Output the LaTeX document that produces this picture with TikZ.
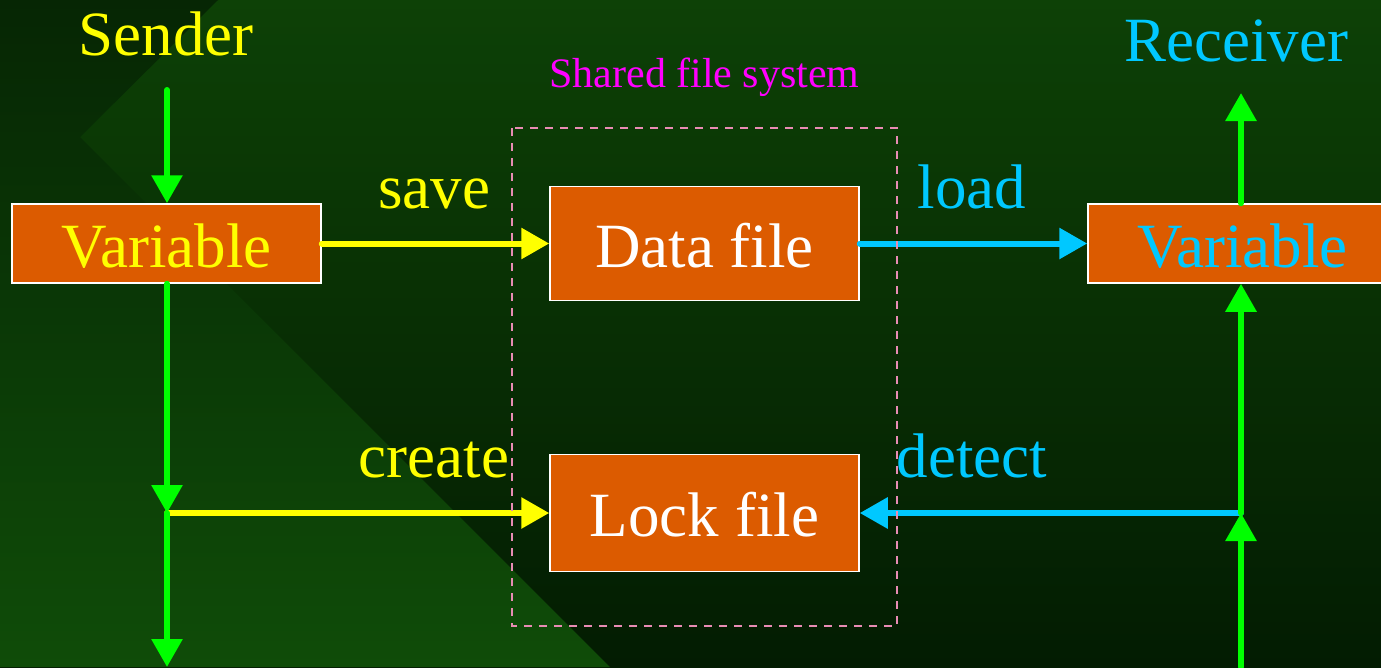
\documentclass[tikz,border=0pt]{standalone}
\usepackage{fontspec}
\setmainfont{Liberation Serif}
\usetikzlibrary{arrows.meta}
\definecolor{boxorange}{RGB}{220,91,0}
\definecolor{lineyellow}{RGB}{255,255,0}
\definecolor{linecyan}{RGB}{0,200,255}
\definecolor{linegreen}{RGB}{0,255,0}
\definecolor{labmag}{RGB}{255,0,255}
\definecolor{dashpink}{RGB}{232,140,180}
\definecolor{bgtop}{RGB}{13,65,6}
\definecolor{bgbot}{RGB}{3,28,2}
\definecolor{lftop}{RGB}{6,38,4}
\definecolor{lfbot}{RGB}{15,76,8}
\begin{document}
\begin{tikzpicture}[x=1pt,y=-1pt,
  big/.style={font=\fontsize{63}{70}\selectfont},
  fbox/.style={draw=white, line width=1.5pt, fill=boxorange, minimum width=309pt,
    inner sep=0pt, text height=47pt, text depth=0pt, big},
  conn/.style={line width=6pt, line cap=round, -{Triangle[length=28pt,width=30pt]}},
  gconn/.style={conn, draw=linegreen},
  yconn/.style={conn, draw=lineyellow},
  cconn/.style={conn, draw=linecyan},
  lab/.style={big, anchor=base, inner sep=0pt}
]
\clip (0,0) rectangle (1381,667);
% background
\shade[top color=bgtop, bottom color=bgbot] (0,0) rectangle (1381,667);
\shade[top color=lftop, bottom color=lfbot] (0,0) -- (218,0) -- (80,137) -- (610,667) -- (0,667) -- cycle;

% titles
\node (sender) [lab, text=lineyellow] at (166,55) {Sender};
\node (receiver) [lab, text=linecyan] at (1236,61) {Receiver};
\node (sfs) [anchor=base, inner sep=0pt, text=labmag, font=\fontsize{42}{48}\selectfont] at (704.5,87) {Shared file system};

% boxes
\node (var1) [fbox, minimum height=79pt, text=lineyellow] at (166.5,243.5) {Variable};
\node (data) [fbox, minimum height=114pt, text=white] at (704.5,243.5) {Data file};
\node (lock) [fbox, minimum height=117pt, text=white] at (704.5,513) {Lock file};
\node (var2) [fbox, minimum height=79pt, text=linecyan] at (1242.5,243.5) {Variable};

% edge labels
\node (save) [lab, text=lineyellow] at (434,208) {save};
\node (create) [lab, text=lineyellow] at (434,477) {create};
\node (load) [lab, text=linecyan] at (972,208) {load};
\node (detect) [lab, text=linecyan] at (972,477) {detect};

% coordinates
\coordinate (s0) at (167,90);
\coordinate (j1) at (167,513);
\coordinate (s1) at (167,667);
\coordinate (r0) at (1241,93);
\coordinate (j2) at (1241,513);
\coordinate (r1) at (1241,667);

% connectors
\draw[yconn] (var1.east) -- (data.west);
\draw[yconn] (j1) -- (lock.west);
\draw[cconn] (data.east) -- (var2.west);
\draw[cconn] (j2) -- (lock.east);

\draw[gconn] (s0) -- (s0 |- var1.north);
\draw[gconn] (s0 |- var1.south) -- (j1);
\draw[gconn] (j1) -- (s1);
\draw[gconn] (r1) -- (j2);
\draw[gconn] (j2) -- (j2 |- var2.south);
\draw[gconn] (j2 |- var2.north) -- (r0);

% shared file system frame
\draw[dashpink, line width=1.5pt, dash pattern=on 8pt off 7pt] (512,128) rectangle (897,626);
\end{tikzpicture}
\end{document}
